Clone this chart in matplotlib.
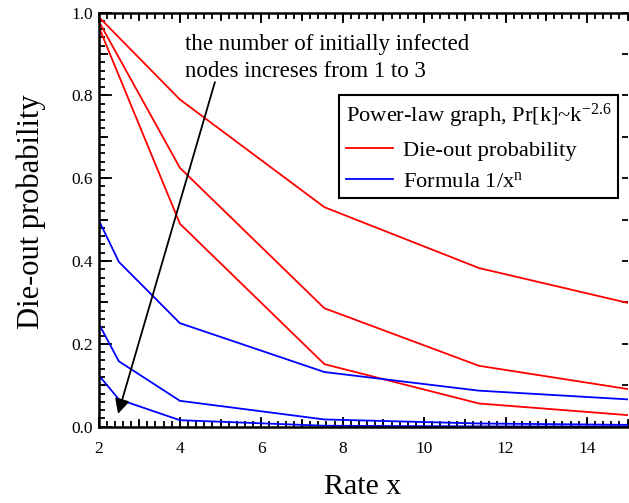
#!/usr/bin/env python3
import matplotlib
matplotlib.use("Agg")
import matplotlib.pyplot as plt
import numpy as np
from matplotlib.ticker import MultipleLocator, NullFormatter

plt.rcParams['font.family'] = ['Liberation Serif', 'DejaVu Serif']
plt.rcParams['mathtext.fontset'] = 'custom'
plt.rcParams['mathtext.rm'] = 'Liberation Serif'
plt.rcParams['mathtext.it'] = 'Liberation Serif:italic'

# rate x values at which the curves were sampled
rate = [2, 4, 7.55, 11.35, 15]
rate_f = [2, 2.5, 4, 7.55, 11.35, 15]

# die-out probability, 1 to 3 initially infected nodes
dieout_1 = [0.99, 0.79, 0.53, 0.383, 0.299]
dieout_2 = [0.98, 0.625, 0.286, 0.147, 0.091]
dieout_3 = [0.967, 0.49, 0.151, 0.056, 0.028]

# formula 1/x^n, n = 1..3
formula_1 = [0.5, 0.398, 0.25, 0.132, 0.087, 0.066]
formula_2 = [0.25, 0.158, 0.0625, 0.0175, 0.0078, 0.0044]
formula_3 = [0.125, 0.066, 0.0157, 0.0023, 0.0007, 0.0003]

fig = plt.figure(figsize=(6.29, 5.03), dpi=100)
ax = fig.add_axes([0.1566, 0.1517, 0.8412, 0.8234])

red = '#ff0000'
blue = '#0000ff'
lw = 1.3

l1, = ax.plot(rate, dieout_1, color=red, lw=lw)
ax.plot(rate, dieout_2, color=red, lw=lw)
ax.plot(rate, dieout_3, color=red, lw=lw)
l2, = ax.plot(rate_f, formula_1, color=blue, lw=lw)
ax.plot(rate_f, formula_2, color=blue, lw=lw)
ax.plot(rate_f, formula_3, color=blue, lw=lw)

ax.set_xlim(2, 15)
ax.set_ylim(0, 1.0)

for side in ['left', 'bottom', 'top']:
    ax.spines[side].set_linewidth(1.8)
ax.spines['right'].set_visible(False)

ax.xaxis.set_major_locator(MultipleLocator(2))
ax.xaxis.set_minor_locator(MultipleLocator(0.2))
ax.yaxis.set_major_locator(MultipleLocator(0.2))
ax.yaxis.set_minor_locator(MultipleLocator(0.02))
ax.yaxis.set_major_formatter(lambda v, p: f'{v:.1f}')
ax.tick_params(which='both', direction='in', top=True, bottom=True,
               left=True, right=False, width=1.3, colors='black',
               labelsize=12.5)
ax.tick_params(axis='x', which='major', length=7, pad=10)
ax.tick_params(axis='y', which='major', length=9, pad=4)
ax.tick_params(which='minor', length=4)

# medium ticks at odd integers / tenths
for loc in ['bottom', 'top']:
    sec = ax.secondary_xaxis(loc)
    sec.xaxis.set_major_locator(MultipleLocator(1))
    sec.xaxis.set_major_formatter(NullFormatter())
    sec.tick_params(direction='in', length=5.5, width=1.3)
    sec.spines[loc].set_visible(False)
secl = ax.secondary_yaxis('left')
secl.yaxis.set_major_locator(MultipleLocator(0.1))
secl.yaxis.set_major_formatter(NullFormatter())
secl.tick_params(direction='in', length=6.5, width=1.3)
secl.spines['left'].set_visible(False)
secr = ax.secondary_yaxis('right')
secr.yaxis.set_major_locator(MultipleLocator(0.1))
secr.yaxis.set_major_formatter(NullFormatter())
secr.tick_params(direction='in', length=4, width=1.3)
secr.spines['right'].set_visible(False)

ax.set_xlabel('Rate x', fontsize=21.5)
ax.set_ylabel('Die-out probability', fontsize=22)
ax.xaxis.set_label_coords(0.5, -0.115)
ax.yaxis.set_label_coords(-0.099, 0.518)

ax.annotate('', xy=(2.48, 0.031), xytext=(4.86, 0.832),
            arrowprops=dict(arrowstyle='-|>', color='black', lw=1.3,
                            mutation_scale=22, shrinkA=0, shrinkB=0))
ax.text(4.12, 0.948, 'the number of initially infected\nnodes increses from 1 to 3',
        fontsize=16.5, va='top', ha='left', linespacing=1.4)

leg = ax.legend([l1, l2], ['Die-out probability', r'Formula 1/x$^{\mathrm{n}}$'],
                title=r'Power-law graph, Pr[k]~k$^{\mathrm{-2.6}}$',
                loc='upper right', bbox_to_anchor=(0.982, 0.801),
                borderaxespad=0, fontsize=16.2, title_fontsize=16.2,
                handlelength=2.1, handletextpad=0.45, labelspacing=0.45,
                borderpad=0.3, fancybox=False, framealpha=1,
                edgecolor='black', alignment='left')
leg.get_frame().set_linewidth(1.5)

fig.savefig('out.png', dpi=100)
